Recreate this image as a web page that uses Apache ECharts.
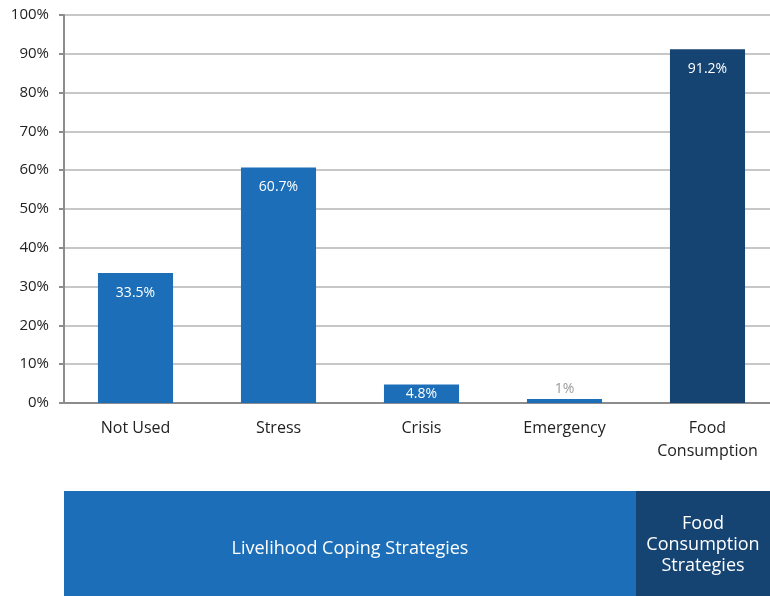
<!DOCTYPE html>
<html>
<head>
<meta charset="utf-8">
<script src="https://cdn.jsdelivr.net/npm/echarts@6/dist/echarts.min.js"></script>
<style>
  html, body { margin: 0; padding: 0; background: #fff; }
  #chart { width: 770px; height: 596px; }
</style>
</head>
<body>
<div id="chart"></div>
<script>
// Share of households using each coping strategy
const categories = ['Not Used', 'Stress', 'Crisis', 'Emergency', 'Food\nConsumption'];
const values = [33.5, 60.7, 4.8, 1, 91.2];
const yTicks = [0, 10, 20, 30, 40, 50, 60, 70, 80, 90, 100];
const groupLabels = ['Livelihood Coping Strategies', 'Food\nConsumption\nStrategies'];
const groupSpans = [[0, 3], [4, 4]];

const BLUE = '#1b6eb7';
const NAVY = '#154372';
const FONT = '"Open Sans", "Noto Sans", sans-serif';

const chart = echarts.init(document.getElementById('chart'));

const data = values.map((v, i) => {
  const isFood = i === 4;
  let label;
  if (v < 3) label = { position: 'top', color: '#9a9a9a', distance: 3 };
  else if (v < 8) label = { position: 'inside', color: '#ffffff' };
  else label = { position: 'insideTop', color: '#ffffff', distance: 13 };
  return { value: v, itemStyle: { color: isFood ? NAVY : BLUE }, label };
});

chart.setOption({
  animation: false,
  textStyle: { fontFamily: FONT },
  grid: { left: 64, width: 715, top: 15, height: 388, outerBoundsMode: 'none', containLabel: false },
  xAxis: {
    type: 'category',
    data: categories,
    axisLine: { lineStyle: { color: '#8c8c8c', width: 2 } },
    axisTick: { show: false },
    axisLabel: { color: '#222', fontSize: 16, margin: 14, lineHeight: 23, fontFamily: FONT }
  },
  yAxis: {
    type: 'value',
    min: yTicks[0],
    max: yTicks[yTicks.length - 1],
    interval: 10,
    axisLine: { show: true, lineStyle: { color: '#8c8c8c', width: 2 } },
    axisTick: { show: true, length: 5, lineStyle: { color: '#8c8c8c', width: 2 } },
    axisLabel: { color: '#222', fontSize: 15, margin: 15, formatter: '{value}%', fontFamily: FONT },
    splitLine: { lineStyle: { color: '#b4b4b4', width: 1.5 } }
  },
  series: [{
    type: 'bar',
    data: data,
    barWidth: '52.5%',
    label: {
      show: true,
      fontSize: 14,
      fontFamily: FONT,
      formatter: p => p.value + '%'
    }
  }]
});

// Group bands under the axis, aligned with the category bands
const c0 = chart.convertToPixel({ xAxisIndex: 0 }, 0);
const c4 = chart.convertToPixel({ xAxisIndex: 0 }, 4);
const band = (c4 - c0) / 4;
const bandLeft = i => c0 - band / 2 + i * band;
const boxTop = 491, boxH = 105;
const colors = [BLUE, NAVY];
const textShift = [5, 1];
chart.setOption({
  graphic: groupSpans.map((s, k) => {
    const x0 = bandLeft(s[0]);
    const x1 = Math.min(bandLeft(s[1] + 1), 770);
    return {
      type: 'group',
      children: [
        { type: 'rect', shape: { x: x0, y: boxTop, width: x1 - x0, height: boxH }, style: { fill: colors[k] } },
        {
          type: 'text',
          x: (x0 + x1) / 2,
          y: boxTop + boxH / 2 + textShift[k],
          style: {
            text: groupLabels[k], fill: '#fff', font: '18px ' + FONT,
            align: 'center', verticalAlign: 'middle', lineHeight: 21
          }
        }
      ]
    };
  })
});
</script>
</body>
</html>
